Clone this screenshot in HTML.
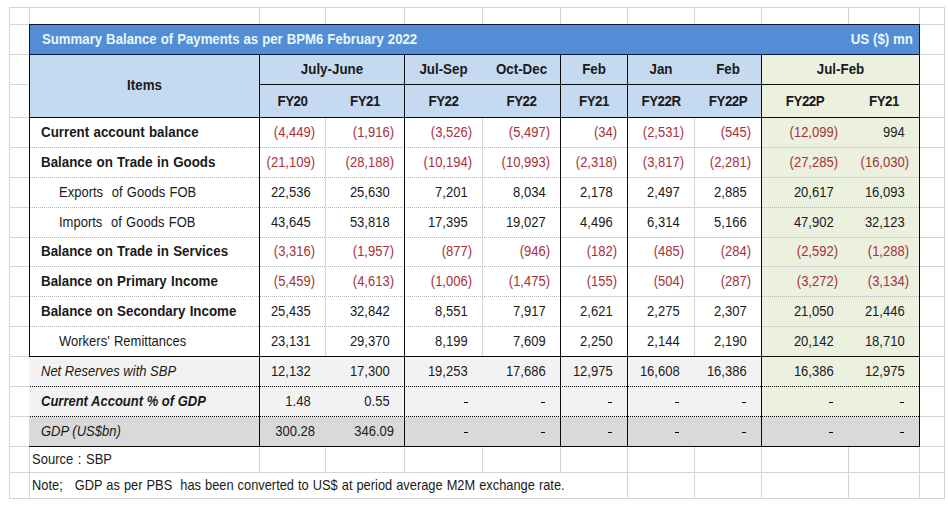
<!DOCTYPE html>
<html><head><meta charset="utf-8"><style>
html,body{margin:0;padding:0;background:#fff;}
#c{position:relative;width:948px;height:524px;overflow:hidden;background:#fff;font-family:"Liberation Sans",sans-serif;}
#c div{position:absolute;box-sizing:border-box;}
#c .t{white-space:nowrap;overflow:visible;}
.h{visibility:hidden;}
</style></head><body><div id="c">
<div style="left:9px;top:7px;width:1px;height:492px;background:#d4d4d4;"></div>
<div style="left:29px;top:7px;width:1px;height:492px;background:#d4d4d4;"></div>
<div style="left:259px;top:7px;width:1px;height:466px;background:#d4d4d4;"></div>
<div style="left:259px;top:498px;width:1px;height:1px;background:#d4d4d4;"></div>
<div style="left:325px;top:7px;width:1px;height:466px;background:#d4d4d4;"></div>
<div style="left:325px;top:498px;width:1px;height:1px;background:#d4d4d4;"></div>
<div style="left:404px;top:7px;width:1px;height:466px;background:#d4d4d4;"></div>
<div style="left:404px;top:498px;width:1px;height:1px;background:#d4d4d4;"></div>
<div style="left:482px;top:7px;width:1px;height:466px;background:#d4d4d4;"></div>
<div style="left:482px;top:498px;width:1px;height:1px;background:#d4d4d4;"></div>
<div style="left:560px;top:7px;width:1px;height:466px;background:#d4d4d4;"></div>
<div style="left:560px;top:498px;width:1px;height:1px;background:#d4d4d4;"></div>
<div style="left:627px;top:7px;width:1px;height:492px;background:#d4d4d4;"></div>
<div style="left:694px;top:7px;width:1px;height:492px;background:#d4d4d4;"></div>
<div style="left:761px;top:7px;width:1px;height:492px;background:#d4d4d4;"></div>
<div style="left:848px;top:7px;width:1px;height:492px;background:#d4d4d4;"></div>
<div style="left:919px;top:7px;width:1px;height:492px;background:#d4d4d4;"></div>
<div style="left:944px;top:7px;width:1px;height:492px;background:#d4d4d4;"></div>
<div style="left:9px;top:7px;width:936px;height:1px;background:#d4d4d4;"></div>
<div style="left:9px;top:24px;width:936px;height:1px;background:#d4d4d4;"></div>
<div style="left:9px;top:54px;width:936px;height:1px;background:#d4d4d4;"></div>
<div style="left:9px;top:84px;width:936px;height:1px;background:#d4d4d4;"></div>
<div style="left:9px;top:117px;width:936px;height:1px;background:#d4d4d4;"></div>
<div style="left:9px;top:147px;width:936px;height:1px;background:#d4d4d4;"></div>
<div style="left:9px;top:177px;width:936px;height:1px;background:#d4d4d4;"></div>
<div style="left:9px;top:207px;width:936px;height:1px;background:#d4d4d4;"></div>
<div style="left:9px;top:237px;width:936px;height:1px;background:#d4d4d4;"></div>
<div style="left:9px;top:266px;width:936px;height:1px;background:#d4d4d4;"></div>
<div style="left:9px;top:296px;width:936px;height:1px;background:#d4d4d4;"></div>
<div style="left:9px;top:326px;width:936px;height:1px;background:#d4d4d4;"></div>
<div style="left:9px;top:356px;width:936px;height:1px;background:#d4d4d4;"></div>
<div style="left:9px;top:386px;width:936px;height:1px;background:#d4d4d4;"></div>
<div style="left:9px;top:416px;width:936px;height:1px;background:#d4d4d4;"></div>
<div style="left:9px;top:446px;width:936px;height:1px;background:#d4d4d4;"></div>
<div style="left:9px;top:472px;width:936px;height:1px;background:#d4d4d4;"></div>
<div style="left:9px;top:498px;width:936px;height:1px;background:#d4d4d4;"></div>
<div style="left:30px;top:25px;width:889px;height:29px;background:#538dd5;"></div>
<div style="left:30px;top:55px;width:731px;height:62px;background:#c5d9f1;"></div>
<div style="left:762px;top:55px;width:157px;height:62px;background:#ebf1de;"></div>
<div style="left:30px;top:118px;width:229px;height:238px;background:#ffffff;"></div>
<div style="left:262px;top:118px;width:499px;height:238px;background:transparent;"></div>
<div style="left:762px;top:118px;width:157px;height:298px;background:#ebf1de;"></div>
<div style="left:29px;top:357px;width:732px;height:59px;background:#f2f2f2;"></div>
<div style="left:29px;top:417px;width:890px;height:29px;background:#d9d9d9;"></div>
<div style="left:30px;top:147px;width:530px;height:1px;background:repeating-linear-gradient(90deg,#b4b4b4 0 1px,#ffffff 1px 2px)"></div>
<div style="left:762px;top:147px;width:157px;height:1px;background:repeating-linear-gradient(90deg,#b4b4b4 0 1px,#ebf1de 1px 2px)"></div>
<div style="left:30px;top:177px;width:530px;height:1px;background:repeating-linear-gradient(90deg,#b4b4b4 0 1px,#ffffff 1px 2px)"></div>
<div style="left:762px;top:177px;width:157px;height:1px;background:repeating-linear-gradient(90deg,#b4b4b4 0 1px,#ebf1de 1px 2px)"></div>
<div style="left:30px;top:207px;width:530px;height:1px;background:repeating-linear-gradient(90deg,#b4b4b4 0 1px,#ffffff 1px 2px)"></div>
<div style="left:762px;top:207px;width:157px;height:1px;background:repeating-linear-gradient(90deg,#b4b4b4 0 1px,#ebf1de 1px 2px)"></div>
<div style="left:30px;top:237px;width:530px;height:1px;background:repeating-linear-gradient(90deg,#b4b4b4 0 1px,#ffffff 1px 2px)"></div>
<div style="left:762px;top:237px;width:157px;height:1px;background:repeating-linear-gradient(90deg,#b4b4b4 0 1px,#ebf1de 1px 2px)"></div>
<div style="left:30px;top:266px;width:530px;height:1px;background:repeating-linear-gradient(90deg,#b4b4b4 0 1px,#ffffff 1px 2px)"></div>
<div style="left:762px;top:266px;width:157px;height:1px;background:repeating-linear-gradient(90deg,#b4b4b4 0 1px,#ebf1de 1px 2px)"></div>
<div style="left:30px;top:296px;width:530px;height:1px;background:repeating-linear-gradient(90deg,#b4b4b4 0 1px,#ffffff 1px 2px)"></div>
<div style="left:762px;top:296px;width:157px;height:1px;background:repeating-linear-gradient(90deg,#b4b4b4 0 1px,#ebf1de 1px 2px)"></div>
<div style="left:30px;top:326px;width:530px;height:1px;background:repeating-linear-gradient(90deg,#b4b4b4 0 1px,#ffffff 1px 2px)"></div>
<div style="left:762px;top:326px;width:157px;height:1px;background:repeating-linear-gradient(90deg,#b4b4b4 0 1px,#ebf1de 1px 2px)"></div>
<div style="left:30px;top:386px;width:731px;height:1px;background:repeating-linear-gradient(90deg,#000000 0 1px,#f2f2f2 1px 2px)"></div>
<div style="left:762px;top:386px;width:157px;height:1px;background:repeating-linear-gradient(90deg,#000000 0 1px,#ebf1de 1px 2px)"></div>
<div style="left:30px;top:416px;width:731px;height:1px;background:repeating-linear-gradient(90deg,#000000 0 1px,#f2f2f2 1px 2px)"></div>
<div style="left:762px;top:416px;width:157px;height:1px;background:repeating-linear-gradient(90deg,#000000 0 1px,#ebf1de 1px 2px)"></div>
<div style="left:29px;top:55px;width:1px;height:302px;background:#0a0a0a;"></div>
<div style="left:259px;top:54px;width:1px;height:393px;background:#0a0a0a;"></div>
<div style="left:404px;top:54px;width:1px;height:393px;background:#0a0a0a;"></div>
<div style="left:560px;top:54px;width:1px;height:393px;background:#0a0a0a;"></div>
<div style="left:627px;top:54px;width:1px;height:393px;background:#0a0a0a;"></div>
<div style="left:761px;top:54px;width:1px;height:393px;background:#0a0a0a;"></div>
<div style="left:919px;top:55px;width:1px;height:392px;background:#0a0a0a;"></div>
<div style="left:259px;top:84px;width:661px;height:1px;background:#0a0a0a;"></div>
<div style="left:29px;top:117px;width:891px;height:1px;background:#0a0a0a;"></div>
<div style="left:29px;top:356px;width:891px;height:1px;background:#0a0a0a;"></div>
<div style="left:29px;top:446px;width:891px;height:1px;background:#0a0a0a;"></div>
<div style="left:29px;top:24px;width:891px;height:1px;background:#0c1634;"></div>
<div style="left:29px;top:54px;width:891px;height:1px;background:#0c1634;"></div>
<div style="left:29px;top:24px;width:1px;height:31px;background:#0c1634;"></div>
<div style="left:919px;top:24px;width:1px;height:31px;background:#0c1634;"></div>
<div class="t" style="left:42px;top:25px;width:558px;height:29px;line-height:29px;text-align:left;color:#e8f7ff;font-weight:bold;font-style:normal;padding:0 0px 0 0px;font-size:13.2px;transform:translateY(0px) scaleY(1.1);transform-origin:50% 19.07px"><span style="word-spacing:0.35px">Summary Balance of Payments as per BPM6 February 2022</span></div>
<div class="t" style="left:700px;top:25px;width:213px;height:29px;line-height:29px;text-align:right;color:#e8f7ff;font-weight:bold;font-style:normal;padding:0 0px 0 0px;font-size:13.35px;transform:translateY(0px) scaleY(1.1);transform-origin:50% 19.13px">US ($) mn</div>
<div class="t" style="left:30px;top:55px;width:229px;height:62px;line-height:62px;text-align:center;color:#1a1a1a;font-weight:bold;font-style:normal;padding:0 0px 0 0px;font-size:13.35px;transform:translateY(0px) scaleY(1.1);transform-origin:50% 35.63px">Items</div>
<div class="t" style="left:260px;top:55px;width:144px;height:29px;line-height:29px;text-align:center;color:#1a1a1a;font-weight:bold;font-style:normal;padding:0 0px 0 0px;font-size:13.35px;transform:translateY(0px) scaleY(1.1);transform-origin:50% 19.13px">July-June</div>
<div class="t" style="left:405px;top:55px;width:77px;height:29px;line-height:29px;text-align:center;color:#1a1a1a;font-weight:bold;font-style:normal;padding:0 0px 0 0px;font-size:13.35px;transform:translateY(0px) scaleY(1.1);transform-origin:50% 19.13px">Jul-Sep</div>
<div class="t" style="left:483px;top:55px;width:77px;height:29px;line-height:29px;text-align:center;color:#1a1a1a;font-weight:bold;font-style:normal;padding:0 0px 0 0px;font-size:13.35px;transform:translateY(0px) scaleY(1.1);transform-origin:50% 19.13px">Oct-Dec</div>
<div class="t" style="left:561px;top:55px;width:66px;height:29px;line-height:29px;text-align:center;color:#1a1a1a;font-weight:bold;font-style:normal;padding:0 0px 0 0px;font-size:13.35px;transform:translateY(0px) scaleY(1.1);transform-origin:50% 19.13px">Feb</div>
<div class="t" style="left:628px;top:55px;width:66px;height:29px;line-height:29px;text-align:center;color:#1a1a1a;font-weight:bold;font-style:normal;padding:0 0px 0 0px;font-size:13.35px;transform:translateY(0px) scaleY(1.1);transform-origin:50% 19.13px">Jan</div>
<div class="t" style="left:695px;top:55px;width:66px;height:29px;line-height:29px;text-align:center;color:#1a1a1a;font-weight:bold;font-style:normal;padding:0 0px 0 0px;font-size:13.35px;transform:translateY(0px) scaleY(1.1);transform-origin:50% 19.13px">Feb</div>
<div class="t" style="left:762px;top:55px;width:157px;height:29px;line-height:29px;text-align:center;color:#1a1a1a;font-weight:bold;font-style:normal;padding:0 0px 0 0px;font-size:13.35px;transform:translateY(0px) scaleY(1.1);transform-origin:50% 19.13px">Jul-Feb</div>
<div class="t" style="left:260px;top:85px;width:65px;height:32px;line-height:32px;text-align:center;color:#1a1a1a;font-weight:bold;font-style:normal;padding:0 0px 0 0px;font-size:13.35px;transform:translateY(1px) scaleY(1.1);transform-origin:50% 20.63px;letter-spacing:-0.5px">FY20</div>
<div class="t" style="left:326px;top:85px;width:78px;height:32px;line-height:32px;text-align:center;color:#1a1a1a;font-weight:bold;font-style:normal;padding:0 0px 0 0px;font-size:13.35px;transform:translateY(1px) scaleY(1.1);transform-origin:50% 20.63px;letter-spacing:-0.5px">FY21</div>
<div class="t" style="left:405px;top:85px;width:77px;height:32px;line-height:32px;text-align:center;color:#1a1a1a;font-weight:bold;font-style:normal;padding:0 0px 0 0px;font-size:13.35px;transform:translateY(1px) scaleY(1.1);transform-origin:50% 20.63px;letter-spacing:-0.5px">FY22</div>
<div class="t" style="left:483px;top:85px;width:77px;height:32px;line-height:32px;text-align:center;color:#1a1a1a;font-weight:bold;font-style:normal;padding:0 0px 0 0px;font-size:13.35px;transform:translateY(1px) scaleY(1.1);transform-origin:50% 20.63px;letter-spacing:-0.5px">FY22</div>
<div class="t" style="left:561px;top:85px;width:66px;height:32px;line-height:32px;text-align:center;color:#1a1a1a;font-weight:bold;font-style:normal;padding:0 0px 0 0px;font-size:13.35px;transform:translateY(1px) scaleY(1.1);transform-origin:50% 20.63px;letter-spacing:-0.5px">FY21</div>
<div class="t" style="left:628px;top:85px;width:66px;height:32px;line-height:32px;text-align:center;color:#1a1a1a;font-weight:bold;font-style:normal;padding:0 0px 0 0px;font-size:13.35px;transform:translateY(1px) scaleY(1.1);transform-origin:50% 20.63px;letter-spacing:-0.5px">FY22R</div>
<div class="t" style="left:695px;top:85px;width:66px;height:32px;line-height:32px;text-align:center;color:#1a1a1a;font-weight:bold;font-style:normal;padding:0 0px 0 0px;font-size:13.35px;transform:translateY(1px) scaleY(1.1);transform-origin:50% 20.63px;letter-spacing:-0.5px">FY22P</div>
<div class="t" style="left:762px;top:85px;width:86px;height:32px;line-height:32px;text-align:center;color:#1a1a1a;font-weight:bold;font-style:normal;padding:0 0px 0 0px;font-size:13.35px;transform:translateY(1px) scaleY(1.1);transform-origin:50% 20.63px;letter-spacing:-0.5px">FY22P</div>
<div class="t" style="left:849px;top:85px;width:70px;height:32px;line-height:32px;text-align:center;color:#1a1a1a;font-weight:bold;font-style:normal;padding:0 0px 0 0px;font-size:13.35px;transform:translateY(1px) scaleY(1.1);transform-origin:50% 20.63px;letter-spacing:-0.5px">FY21</div>
<div class="t" style="left:41px;top:118px;width:218px;height:29px;line-height:29px;text-align:left;color:#1a1a1a;font-weight:bold;font-style:normal;padding:0 0px 0 0px;font-size:13.35px;transform:translateY(0px) scaleY(1.1);transform-origin:50% 19.13px"><span style="word-spacing:0.6px">Current account balance</span></div>
<div class="t" style="left:260px;top:118px;width:65px;height:29px;line-height:29px;text-align:right;color:#a83038;font-weight:normal;font-style:normal;padding:0 10px 0 0px;font-size:13px;transform:translateY(0px) scaleY(1.1);transform-origin:50% 19.00px">(4,449)</div>
<div class="t" style="left:326px;top:118px;width:78px;height:29px;line-height:29px;text-align:right;color:#a83038;font-weight:normal;font-style:normal;padding:0 10px 0 0px;font-size:13px;transform:translateY(0px) scaleY(1.1);transform-origin:50% 19.00px">(1,916)</div>
<div class="t" style="left:405px;top:118px;width:77px;height:29px;line-height:29px;text-align:right;color:#a83038;font-weight:normal;font-style:normal;padding:0 10px 0 0px;font-size:13px;transform:translateY(0px) scaleY(1.1);transform-origin:50% 19.00px">(3,526)</div>
<div class="t" style="left:483px;top:118px;width:77px;height:29px;line-height:29px;text-align:right;color:#a83038;font-weight:normal;font-style:normal;padding:0 10px 0 0px;font-size:13px;transform:translateY(0px) scaleY(1.1);transform-origin:50% 19.00px">(5,497)</div>
<div class="t" style="left:561px;top:118px;width:66px;height:29px;line-height:29px;text-align:right;color:#a83038;font-weight:normal;font-style:normal;padding:0 10px 0 0px;font-size:13px;transform:translateY(0px) scaleY(1.1);transform-origin:50% 19.00px">(34)</div>
<div class="t" style="left:628px;top:118px;width:66px;height:29px;line-height:29px;text-align:right;color:#a83038;font-weight:normal;font-style:normal;padding:0 10px 0 0px;font-size:13px;transform:translateY(0px) scaleY(1.1);transform-origin:50% 19.00px">(2,531)</div>
<div class="t" style="left:695px;top:118px;width:66px;height:29px;line-height:29px;text-align:right;color:#a83038;font-weight:normal;font-style:normal;padding:0 10px 0 0px;font-size:13px;transform:translateY(0px) scaleY(1.1);transform-origin:50% 19.00px">(545)</div>
<div class="t" style="left:762px;top:118px;width:86px;height:29px;line-height:29px;text-align:right;color:#a83038;font-weight:normal;font-style:normal;padding:0 10px 0 0px;font-size:13px;transform:translateY(0px) scaleY(1.1);transform-origin:50% 19.00px">(12,099)</div>
<div class="t" style="left:849px;top:118px;width:70px;height:29px;line-height:29px;text-align:right;color:#1a1a1a;font-weight:normal;font-style:normal;padding:0 10px 0 0px;font-size:13px;transform:translateY(0px) scaleY(1.1);transform-origin:50% 19.00px">994<span class="h">)</span></div>
<div class="t" style="left:41px;top:148px;width:218px;height:29px;line-height:29px;text-align:left;color:#1a1a1a;font-weight:bold;font-style:normal;padding:0 0px 0 0px;font-size:13.35px;transform:translateY(0px) scaleY(1.1);transform-origin:50% 19.13px"><span style="word-spacing:0.6px">Balance on Trade in Goods</span></div>
<div class="t" style="left:260px;top:148px;width:65px;height:29px;line-height:29px;text-align:right;color:#a83038;font-weight:normal;font-style:normal;padding:0 10px 0 0px;font-size:13px;transform:translateY(0px) scaleY(1.1);transform-origin:50% 19.00px">(21,109)</div>
<div class="t" style="left:326px;top:148px;width:78px;height:29px;line-height:29px;text-align:right;color:#a83038;font-weight:normal;font-style:normal;padding:0 10px 0 0px;font-size:13px;transform:translateY(0px) scaleY(1.1);transform-origin:50% 19.00px">(28,188)</div>
<div class="t" style="left:405px;top:148px;width:77px;height:29px;line-height:29px;text-align:right;color:#a83038;font-weight:normal;font-style:normal;padding:0 10px 0 0px;font-size:13px;transform:translateY(0px) scaleY(1.1);transform-origin:50% 19.00px">(10,194)</div>
<div class="t" style="left:483px;top:148px;width:77px;height:29px;line-height:29px;text-align:right;color:#a83038;font-weight:normal;font-style:normal;padding:0 10px 0 0px;font-size:13px;transform:translateY(0px) scaleY(1.1);transform-origin:50% 19.00px">(10,993)</div>
<div class="t" style="left:561px;top:148px;width:66px;height:29px;line-height:29px;text-align:right;color:#a83038;font-weight:normal;font-style:normal;padding:0 10px 0 0px;font-size:13px;transform:translateY(0px) scaleY(1.1);transform-origin:50% 19.00px">(2,318)</div>
<div class="t" style="left:628px;top:148px;width:66px;height:29px;line-height:29px;text-align:right;color:#a83038;font-weight:normal;font-style:normal;padding:0 10px 0 0px;font-size:13px;transform:translateY(0px) scaleY(1.1);transform-origin:50% 19.00px">(3,817)</div>
<div class="t" style="left:695px;top:148px;width:66px;height:29px;line-height:29px;text-align:right;color:#a83038;font-weight:normal;font-style:normal;padding:0 10px 0 0px;font-size:13px;transform:translateY(0px) scaleY(1.1);transform-origin:50% 19.00px">(2,281)</div>
<div class="t" style="left:762px;top:148px;width:86px;height:29px;line-height:29px;text-align:right;color:#a83038;font-weight:normal;font-style:normal;padding:0 10px 0 0px;font-size:13px;transform:translateY(0px) scaleY(1.1);transform-origin:50% 19.00px">(27,285)</div>
<div class="t" style="left:849px;top:148px;width:70px;height:29px;line-height:29px;text-align:right;color:#a83038;font-weight:normal;font-style:normal;padding:0 10px 0 0px;font-size:13px;transform:translateY(0px) scaleY(1.1);transform-origin:50% 19.00px">(16,030)</div>
<div class="t" style="left:59px;top:178px;width:200px;height:29px;line-height:29px;text-align:left;color:#1a1a1a;font-weight:normal;font-style:normal;padding:0 0px 0 0px;font-size:13px;transform:translateY(0px) scaleY(1.1);transform-origin:50% 19.00px"><span style="word-spacing:0.7px">Exports&nbsp; of Goods FOB</span></div>
<div class="t" style="left:260px;top:178px;width:65px;height:29px;line-height:29px;text-align:right;color:#1a1a1a;font-weight:normal;font-style:normal;padding:0 10px 0 0px;font-size:13px;transform:translateY(0px) scaleY(1.1);transform-origin:50% 19.00px">22,536<span class="h">)</span></div>
<div class="t" style="left:326px;top:178px;width:78px;height:29px;line-height:29px;text-align:right;color:#1a1a1a;font-weight:normal;font-style:normal;padding:0 10px 0 0px;font-size:13px;transform:translateY(0px) scaleY(1.1);transform-origin:50% 19.00px">25,630<span class="h">)</span></div>
<div class="t" style="left:405px;top:178px;width:77px;height:29px;line-height:29px;text-align:right;color:#1a1a1a;font-weight:normal;font-style:normal;padding:0 10px 0 0px;font-size:13px;transform:translateY(0px) scaleY(1.1);transform-origin:50% 19.00px">7,201<span class="h">)</span></div>
<div class="t" style="left:483px;top:178px;width:77px;height:29px;line-height:29px;text-align:right;color:#1a1a1a;font-weight:normal;font-style:normal;padding:0 10px 0 0px;font-size:13px;transform:translateY(0px) scaleY(1.1);transform-origin:50% 19.00px">8,034<span class="h">)</span></div>
<div class="t" style="left:561px;top:178px;width:66px;height:29px;line-height:29px;text-align:right;color:#1a1a1a;font-weight:normal;font-style:normal;padding:0 10px 0 0px;font-size:13px;transform:translateY(0px) scaleY(1.1);transform-origin:50% 19.00px">2,178<span class="h">)</span></div>
<div class="t" style="left:628px;top:178px;width:66px;height:29px;line-height:29px;text-align:right;color:#1a1a1a;font-weight:normal;font-style:normal;padding:0 10px 0 0px;font-size:13px;transform:translateY(0px) scaleY(1.1);transform-origin:50% 19.00px">2,497<span class="h">)</span></div>
<div class="t" style="left:695px;top:178px;width:66px;height:29px;line-height:29px;text-align:right;color:#1a1a1a;font-weight:normal;font-style:normal;padding:0 10px 0 0px;font-size:13px;transform:translateY(0px) scaleY(1.1);transform-origin:50% 19.00px">2,885<span class="h">)</span></div>
<div class="t" style="left:762px;top:178px;width:86px;height:29px;line-height:29px;text-align:right;color:#1a1a1a;font-weight:normal;font-style:normal;padding:0 10px 0 0px;font-size:13px;transform:translateY(0px) scaleY(1.1);transform-origin:50% 19.00px">20,617<span class="h">)</span></div>
<div class="t" style="left:849px;top:178px;width:70px;height:29px;line-height:29px;text-align:right;color:#1a1a1a;font-weight:normal;font-style:normal;padding:0 10px 0 0px;font-size:13px;transform:translateY(0px) scaleY(1.1);transform-origin:50% 19.00px">16,093<span class="h">)</span></div>
<div class="t" style="left:59px;top:208px;width:200px;height:29px;line-height:29px;text-align:left;color:#1a1a1a;font-weight:normal;font-style:normal;padding:0 0px 0 0px;font-size:13px;transform:translateY(0px) scaleY(1.1);transform-origin:50% 19.00px"><span style="word-spacing:0.7px">Imports&nbsp; of Goods FOB</span></div>
<div class="t" style="left:260px;top:208px;width:65px;height:29px;line-height:29px;text-align:right;color:#1a1a1a;font-weight:normal;font-style:normal;padding:0 10px 0 0px;font-size:13px;transform:translateY(0px) scaleY(1.1);transform-origin:50% 19.00px">43,645<span class="h">)</span></div>
<div class="t" style="left:326px;top:208px;width:78px;height:29px;line-height:29px;text-align:right;color:#1a1a1a;font-weight:normal;font-style:normal;padding:0 10px 0 0px;font-size:13px;transform:translateY(0px) scaleY(1.1);transform-origin:50% 19.00px">53,818<span class="h">)</span></div>
<div class="t" style="left:405px;top:208px;width:77px;height:29px;line-height:29px;text-align:right;color:#1a1a1a;font-weight:normal;font-style:normal;padding:0 10px 0 0px;font-size:13px;transform:translateY(0px) scaleY(1.1);transform-origin:50% 19.00px">17,395<span class="h">)</span></div>
<div class="t" style="left:483px;top:208px;width:77px;height:29px;line-height:29px;text-align:right;color:#1a1a1a;font-weight:normal;font-style:normal;padding:0 10px 0 0px;font-size:13px;transform:translateY(0px) scaleY(1.1);transform-origin:50% 19.00px">19,027<span class="h">)</span></div>
<div class="t" style="left:561px;top:208px;width:66px;height:29px;line-height:29px;text-align:right;color:#1a1a1a;font-weight:normal;font-style:normal;padding:0 10px 0 0px;font-size:13px;transform:translateY(0px) scaleY(1.1);transform-origin:50% 19.00px">4,496<span class="h">)</span></div>
<div class="t" style="left:628px;top:208px;width:66px;height:29px;line-height:29px;text-align:right;color:#1a1a1a;font-weight:normal;font-style:normal;padding:0 10px 0 0px;font-size:13px;transform:translateY(0px) scaleY(1.1);transform-origin:50% 19.00px">6,314<span class="h">)</span></div>
<div class="t" style="left:695px;top:208px;width:66px;height:29px;line-height:29px;text-align:right;color:#1a1a1a;font-weight:normal;font-style:normal;padding:0 10px 0 0px;font-size:13px;transform:translateY(0px) scaleY(1.1);transform-origin:50% 19.00px">5,166<span class="h">)</span></div>
<div class="t" style="left:762px;top:208px;width:86px;height:29px;line-height:29px;text-align:right;color:#1a1a1a;font-weight:normal;font-style:normal;padding:0 10px 0 0px;font-size:13px;transform:translateY(0px) scaleY(1.1);transform-origin:50% 19.00px">47,902<span class="h">)</span></div>
<div class="t" style="left:849px;top:208px;width:70px;height:29px;line-height:29px;text-align:right;color:#1a1a1a;font-weight:normal;font-style:normal;padding:0 10px 0 0px;font-size:13px;transform:translateY(0px) scaleY(1.1);transform-origin:50% 19.00px">32,123<span class="h">)</span></div>
<div class="t" style="left:41px;top:238px;width:218px;height:28px;line-height:28px;text-align:left;color:#1a1a1a;font-weight:bold;font-style:normal;padding:0 0px 0 0px;font-size:13.35px;transform:translateY(0px) scaleY(1.1);transform-origin:50% 18.63px"><span style="word-spacing:0.6px">Balance on Trade in Services</span></div>
<div class="t" style="left:260px;top:238px;width:65px;height:28px;line-height:28px;text-align:right;color:#a83038;font-weight:normal;font-style:normal;padding:0 10px 0 0px;font-size:13px;transform:translateY(0px) scaleY(1.1);transform-origin:50% 18.50px">(3,316)</div>
<div class="t" style="left:326px;top:238px;width:78px;height:28px;line-height:28px;text-align:right;color:#a83038;font-weight:normal;font-style:normal;padding:0 10px 0 0px;font-size:13px;transform:translateY(0px) scaleY(1.1);transform-origin:50% 18.50px">(1,957)</div>
<div class="t" style="left:405px;top:238px;width:77px;height:28px;line-height:28px;text-align:right;color:#a83038;font-weight:normal;font-style:normal;padding:0 10px 0 0px;font-size:13px;transform:translateY(0px) scaleY(1.1);transform-origin:50% 18.50px">(877)</div>
<div class="t" style="left:483px;top:238px;width:77px;height:28px;line-height:28px;text-align:right;color:#a83038;font-weight:normal;font-style:normal;padding:0 10px 0 0px;font-size:13px;transform:translateY(0px) scaleY(1.1);transform-origin:50% 18.50px">(946)</div>
<div class="t" style="left:561px;top:238px;width:66px;height:28px;line-height:28px;text-align:right;color:#a83038;font-weight:normal;font-style:normal;padding:0 10px 0 0px;font-size:13px;transform:translateY(0px) scaleY(1.1);transform-origin:50% 18.50px">(182)</div>
<div class="t" style="left:628px;top:238px;width:66px;height:28px;line-height:28px;text-align:right;color:#a83038;font-weight:normal;font-style:normal;padding:0 10px 0 0px;font-size:13px;transform:translateY(0px) scaleY(1.1);transform-origin:50% 18.50px">(485)</div>
<div class="t" style="left:695px;top:238px;width:66px;height:28px;line-height:28px;text-align:right;color:#a83038;font-weight:normal;font-style:normal;padding:0 10px 0 0px;font-size:13px;transform:translateY(0px) scaleY(1.1);transform-origin:50% 18.50px">(284)</div>
<div class="t" style="left:762px;top:238px;width:86px;height:28px;line-height:28px;text-align:right;color:#a83038;font-weight:normal;font-style:normal;padding:0 10px 0 0px;font-size:13px;transform:translateY(0px) scaleY(1.1);transform-origin:50% 18.50px">(2,592)</div>
<div class="t" style="left:849px;top:238px;width:70px;height:28px;line-height:28px;text-align:right;color:#a83038;font-weight:normal;font-style:normal;padding:0 10px 0 0px;font-size:13px;transform:translateY(0px) scaleY(1.1);transform-origin:50% 18.50px">(1,288)</div>
<div class="t" style="left:41px;top:267px;width:218px;height:29px;line-height:29px;text-align:left;color:#1a1a1a;font-weight:bold;font-style:normal;padding:0 0px 0 0px;font-size:13.35px;transform:translateY(0px) scaleY(1.1);transform-origin:50% 19.13px"><span style="word-spacing:0.6px">Balance on Primary Income</span></div>
<div class="t" style="left:260px;top:267px;width:65px;height:29px;line-height:29px;text-align:right;color:#a83038;font-weight:normal;font-style:normal;padding:0 10px 0 0px;font-size:13px;transform:translateY(0px) scaleY(1.1);transform-origin:50% 19.00px">(5,459)</div>
<div class="t" style="left:326px;top:267px;width:78px;height:29px;line-height:29px;text-align:right;color:#a83038;font-weight:normal;font-style:normal;padding:0 10px 0 0px;font-size:13px;transform:translateY(0px) scaleY(1.1);transform-origin:50% 19.00px">(4,613)</div>
<div class="t" style="left:405px;top:267px;width:77px;height:29px;line-height:29px;text-align:right;color:#a83038;font-weight:normal;font-style:normal;padding:0 10px 0 0px;font-size:13px;transform:translateY(0px) scaleY(1.1);transform-origin:50% 19.00px">(1,006)</div>
<div class="t" style="left:483px;top:267px;width:77px;height:29px;line-height:29px;text-align:right;color:#a83038;font-weight:normal;font-style:normal;padding:0 10px 0 0px;font-size:13px;transform:translateY(0px) scaleY(1.1);transform-origin:50% 19.00px">(1,475)</div>
<div class="t" style="left:561px;top:267px;width:66px;height:29px;line-height:29px;text-align:right;color:#a83038;font-weight:normal;font-style:normal;padding:0 10px 0 0px;font-size:13px;transform:translateY(0px) scaleY(1.1);transform-origin:50% 19.00px">(155)</div>
<div class="t" style="left:628px;top:267px;width:66px;height:29px;line-height:29px;text-align:right;color:#a83038;font-weight:normal;font-style:normal;padding:0 10px 0 0px;font-size:13px;transform:translateY(0px) scaleY(1.1);transform-origin:50% 19.00px">(504)</div>
<div class="t" style="left:695px;top:267px;width:66px;height:29px;line-height:29px;text-align:right;color:#a83038;font-weight:normal;font-style:normal;padding:0 10px 0 0px;font-size:13px;transform:translateY(0px) scaleY(1.1);transform-origin:50% 19.00px">(287)</div>
<div class="t" style="left:762px;top:267px;width:86px;height:29px;line-height:29px;text-align:right;color:#a83038;font-weight:normal;font-style:normal;padding:0 10px 0 0px;font-size:13px;transform:translateY(0px) scaleY(1.1);transform-origin:50% 19.00px">(3,272)</div>
<div class="t" style="left:849px;top:267px;width:70px;height:29px;line-height:29px;text-align:right;color:#a83038;font-weight:normal;font-style:normal;padding:0 10px 0 0px;font-size:13px;transform:translateY(0px) scaleY(1.1);transform-origin:50% 19.00px">(3,134)</div>
<div class="t" style="left:41px;top:297px;width:218px;height:29px;line-height:29px;text-align:left;color:#1a1a1a;font-weight:bold;font-style:normal;padding:0 0px 0 0px;font-size:13.35px;transform:translateY(0px) scaleY(1.1);transform-origin:50% 19.13px"><span style="word-spacing:0.6px">Balance on Secondary Income</span></div>
<div class="t" style="left:260px;top:297px;width:65px;height:29px;line-height:29px;text-align:right;color:#1a1a1a;font-weight:normal;font-style:normal;padding:0 10px 0 0px;font-size:13px;transform:translateY(0px) scaleY(1.1);transform-origin:50% 19.00px">25,435<span class="h">)</span></div>
<div class="t" style="left:326px;top:297px;width:78px;height:29px;line-height:29px;text-align:right;color:#1a1a1a;font-weight:normal;font-style:normal;padding:0 10px 0 0px;font-size:13px;transform:translateY(0px) scaleY(1.1);transform-origin:50% 19.00px">32,842<span class="h">)</span></div>
<div class="t" style="left:405px;top:297px;width:77px;height:29px;line-height:29px;text-align:right;color:#1a1a1a;font-weight:normal;font-style:normal;padding:0 10px 0 0px;font-size:13px;transform:translateY(0px) scaleY(1.1);transform-origin:50% 19.00px">8,551<span class="h">)</span></div>
<div class="t" style="left:483px;top:297px;width:77px;height:29px;line-height:29px;text-align:right;color:#1a1a1a;font-weight:normal;font-style:normal;padding:0 10px 0 0px;font-size:13px;transform:translateY(0px) scaleY(1.1);transform-origin:50% 19.00px">7,917<span class="h">)</span></div>
<div class="t" style="left:561px;top:297px;width:66px;height:29px;line-height:29px;text-align:right;color:#1a1a1a;font-weight:normal;font-style:normal;padding:0 10px 0 0px;font-size:13px;transform:translateY(0px) scaleY(1.1);transform-origin:50% 19.00px">2,621<span class="h">)</span></div>
<div class="t" style="left:628px;top:297px;width:66px;height:29px;line-height:29px;text-align:right;color:#1a1a1a;font-weight:normal;font-style:normal;padding:0 10px 0 0px;font-size:13px;transform:translateY(0px) scaleY(1.1);transform-origin:50% 19.00px">2,275<span class="h">)</span></div>
<div class="t" style="left:695px;top:297px;width:66px;height:29px;line-height:29px;text-align:right;color:#1a1a1a;font-weight:normal;font-style:normal;padding:0 10px 0 0px;font-size:13px;transform:translateY(0px) scaleY(1.1);transform-origin:50% 19.00px">2,307<span class="h">)</span></div>
<div class="t" style="left:762px;top:297px;width:86px;height:29px;line-height:29px;text-align:right;color:#1a1a1a;font-weight:normal;font-style:normal;padding:0 10px 0 0px;font-size:13px;transform:translateY(0px) scaleY(1.1);transform-origin:50% 19.00px">21,050<span class="h">)</span></div>
<div class="t" style="left:849px;top:297px;width:70px;height:29px;line-height:29px;text-align:right;color:#1a1a1a;font-weight:normal;font-style:normal;padding:0 10px 0 0px;font-size:13px;transform:translateY(0px) scaleY(1.1);transform-origin:50% 19.00px">21,446<span class="h">)</span></div>
<div class="t" style="left:59px;top:327px;width:200px;height:29px;line-height:29px;text-align:left;color:#1a1a1a;font-weight:normal;font-style:normal;padding:0 0px 0 0px;font-size:13px;transform:translateY(0px) scaleY(1.1);transform-origin:50% 19.00px"><span style="word-spacing:0.7px">Workers' Remittances</span></div>
<div class="t" style="left:260px;top:327px;width:65px;height:29px;line-height:29px;text-align:right;color:#1a1a1a;font-weight:normal;font-style:normal;padding:0 10px 0 0px;font-size:13px;transform:translateY(0px) scaleY(1.1);transform-origin:50% 19.00px">23,131<span class="h">)</span></div>
<div class="t" style="left:326px;top:327px;width:78px;height:29px;line-height:29px;text-align:right;color:#1a1a1a;font-weight:normal;font-style:normal;padding:0 10px 0 0px;font-size:13px;transform:translateY(0px) scaleY(1.1);transform-origin:50% 19.00px">29,370<span class="h">)</span></div>
<div class="t" style="left:405px;top:327px;width:77px;height:29px;line-height:29px;text-align:right;color:#1a1a1a;font-weight:normal;font-style:normal;padding:0 10px 0 0px;font-size:13px;transform:translateY(0px) scaleY(1.1);transform-origin:50% 19.00px">8,199<span class="h">)</span></div>
<div class="t" style="left:483px;top:327px;width:77px;height:29px;line-height:29px;text-align:right;color:#1a1a1a;font-weight:normal;font-style:normal;padding:0 10px 0 0px;font-size:13px;transform:translateY(0px) scaleY(1.1);transform-origin:50% 19.00px">7,609<span class="h">)</span></div>
<div class="t" style="left:561px;top:327px;width:66px;height:29px;line-height:29px;text-align:right;color:#1a1a1a;font-weight:normal;font-style:normal;padding:0 10px 0 0px;font-size:13px;transform:translateY(0px) scaleY(1.1);transform-origin:50% 19.00px">2,250<span class="h">)</span></div>
<div class="t" style="left:628px;top:327px;width:66px;height:29px;line-height:29px;text-align:right;color:#1a1a1a;font-weight:normal;font-style:normal;padding:0 10px 0 0px;font-size:13px;transform:translateY(0px) scaleY(1.1);transform-origin:50% 19.00px">2,144<span class="h">)</span></div>
<div class="t" style="left:695px;top:327px;width:66px;height:29px;line-height:29px;text-align:right;color:#1a1a1a;font-weight:normal;font-style:normal;padding:0 10px 0 0px;font-size:13px;transform:translateY(0px) scaleY(1.1);transform-origin:50% 19.00px">2,190<span class="h">)</span></div>
<div class="t" style="left:762px;top:327px;width:86px;height:29px;line-height:29px;text-align:right;color:#1a1a1a;font-weight:normal;font-style:normal;padding:0 10px 0 0px;font-size:13px;transform:translateY(0px) scaleY(1.1);transform-origin:50% 19.00px">20,142<span class="h">)</span></div>
<div class="t" style="left:849px;top:327px;width:70px;height:29px;line-height:29px;text-align:right;color:#1a1a1a;font-weight:normal;font-style:normal;padding:0 10px 0 0px;font-size:13px;transform:translateY(0px) scaleY(1.1);transform-origin:50% 19.00px">18,710<span class="h">)</span></div>
<div class="t" style="left:41px;top:357px;width:218px;height:29px;line-height:29px;text-align:left;color:#1a1a1a;font-weight:normal;font-style:italic;padding:0 0px 0 0px;font-size:13px;transform:translateY(0px) scaleY(1.1);transform-origin:50% 19.00px">Net Reserves with SBP</div>
<div class="t" style="left:260px;top:357px;width:65px;height:29px;line-height:29px;text-align:right;color:#1a1a1a;font-weight:normal;font-style:normal;padding:0 10px 0 0px;font-size:13px;transform:translateY(0px) scaleY(1.1);transform-origin:50% 19.00px">12,132<span class="h">)</span></div>
<div class="t" style="left:326px;top:357px;width:78px;height:29px;line-height:29px;text-align:right;color:#1a1a1a;font-weight:normal;font-style:normal;padding:0 10px 0 0px;font-size:13px;transform:translateY(0px) scaleY(1.1);transform-origin:50% 19.00px">17,300<span class="h">)</span></div>
<div class="t" style="left:405px;top:357px;width:77px;height:29px;line-height:29px;text-align:right;color:#1a1a1a;font-weight:normal;font-style:normal;padding:0 10px 0 0px;font-size:13px;transform:translateY(0px) scaleY(1.1);transform-origin:50% 19.00px">19,253<span class="h">)</span></div>
<div class="t" style="left:483px;top:357px;width:77px;height:29px;line-height:29px;text-align:right;color:#1a1a1a;font-weight:normal;font-style:normal;padding:0 10px 0 0px;font-size:13px;transform:translateY(0px) scaleY(1.1);transform-origin:50% 19.00px">17,686<span class="h">)</span></div>
<div class="t" style="left:561px;top:357px;width:66px;height:29px;line-height:29px;text-align:right;color:#1a1a1a;font-weight:normal;font-style:normal;padding:0 10px 0 0px;font-size:13px;transform:translateY(0px) scaleY(1.1);transform-origin:50% 19.00px">12,975<span class="h">)</span></div>
<div class="t" style="left:628px;top:357px;width:66px;height:29px;line-height:29px;text-align:right;color:#1a1a1a;font-weight:normal;font-style:normal;padding:0 10px 0 0px;font-size:13px;transform:translateY(0px) scaleY(1.1);transform-origin:50% 19.00px">16,608<span class="h">)</span></div>
<div class="t" style="left:695px;top:357px;width:66px;height:29px;line-height:29px;text-align:right;color:#1a1a1a;font-weight:normal;font-style:normal;padding:0 10px 0 0px;font-size:13px;transform:translateY(0px) scaleY(1.1);transform-origin:50% 19.00px">16,386<span class="h">)</span></div>
<div class="t" style="left:762px;top:357px;width:86px;height:29px;line-height:29px;text-align:right;color:#1a1a1a;font-weight:normal;font-style:normal;padding:0 10px 0 0px;font-size:13px;transform:translateY(0px) scaleY(1.1);transform-origin:50% 19.00px">16,386<span class="h">)</span></div>
<div class="t" style="left:849px;top:357px;width:70px;height:29px;line-height:29px;text-align:right;color:#1a1a1a;font-weight:normal;font-style:normal;padding:0 10px 0 0px;font-size:13px;transform:translateY(0px) scaleY(1.1);transform-origin:50% 19.00px">12,975<span class="h">)</span></div>
<div class="t" style="left:41px;top:387px;width:218px;height:29px;line-height:29px;text-align:left;color:#1a1a1a;font-weight:bold;font-style:italic;padding:0 0px 0 0px;font-size:13px;transform:translateY(0px) scaleY(1.1);transform-origin:50% 19.00px">Current Account % of GDP</div>
<div class="t" style="left:260px;top:387px;width:65px;height:29px;line-height:29px;text-align:right;color:#1a1a1a;font-weight:normal;font-style:normal;padding:0 10px 0 0px;font-size:13px;transform:translateY(0px) scaleY(1.1);transform-origin:50% 19.00px">1.48<span class="h">)</span></div>
<div class="t" style="left:326px;top:387px;width:78px;height:29px;line-height:29px;text-align:right;color:#1a1a1a;font-weight:normal;font-style:normal;padding:0 10px 0 0px;font-size:13px;transform:translateY(0px) scaleY(1.1);transform-origin:50% 19.00px">0.55<span class="h">)</span></div>
<div style="left:464px;top:402px;width:4px;height:1px;background:#000000;"></div>
<div style="left:541px;top:402px;width:4px;height:1px;background:#000000;"></div>
<div style="left:608px;top:402px;width:4px;height:1px;background:#000000;"></div>
<div style="left:675px;top:402px;width:4px;height:1px;background:#000000;"></div>
<div style="left:742px;top:402px;width:4px;height:1px;background:#000000;"></div>
<div style="left:829px;top:402px;width:4px;height:1px;background:#000000;"></div>
<div style="left:900px;top:402px;width:4px;height:1px;background:#000000;"></div>
<div class="t" style="left:41px;top:417px;width:218px;height:29px;line-height:29px;text-align:left;color:#1a1a1a;font-weight:normal;font-style:italic;padding:0 0px 0 0px;font-size:13px;transform:translateY(0px) scaleY(1.1);transform-origin:50% 19.00px">GDP (US$bn)</div>
<div class="t" style="left:260px;top:417px;width:65px;height:29px;line-height:29px;text-align:right;color:#1a1a1a;font-weight:normal;font-style:normal;padding:0 10px 0 0px;font-size:13px;transform:translateY(0px) scaleY(1.1);transform-origin:50% 19.00px">300.28</div>
<div class="t" style="left:326px;top:417px;width:78px;height:29px;line-height:29px;text-align:right;color:#1a1a1a;font-weight:normal;font-style:normal;padding:0 10px 0 0px;font-size:13px;transform:translateY(0px) scaleY(1.1);transform-origin:50% 19.00px">346.09</div>
<div style="left:464px;top:432px;width:4px;height:1px;background:#000000;"></div>
<div style="left:541px;top:432px;width:4px;height:1px;background:#000000;"></div>
<div style="left:608px;top:432px;width:4px;height:1px;background:#000000;"></div>
<div style="left:675px;top:432px;width:4px;height:1px;background:#000000;"></div>
<div style="left:742px;top:432px;width:4px;height:1px;background:#000000;"></div>
<div style="left:829px;top:432px;width:4px;height:1px;background:#000000;"></div>
<div style="left:900px;top:432px;width:4px;height:1px;background:#000000;"></div>
<div class="t" style="left:32px;top:447px;width:227px;height:25px;line-height:25px;text-align:left;color:#1a1a1a;font-weight:normal;font-style:normal;padding:0 0px 0 0px;font-size:13px;transform:translateY(0px) scaleY(1.1);transform-origin:50% 17.00px"><span style="word-spacing:1px">Source : SBP</span></div>
<div class="t" style="left:32px;top:473px;width:668px;height:25px;line-height:25px;text-align:left;color:#1a1a1a;font-weight:normal;font-style:normal;padding:0 0px 0 0px;font-size:12.85px;transform:translateY(0px) scaleY(1.1);transform-origin:50% 16.95px"><span style="word-spacing:0.45px">Note;&nbsp;&nbsp; GDP as per PBS&nbsp; has been converted to US$ at period average M2M exchange rate.</span></div>
</div></body></html>
